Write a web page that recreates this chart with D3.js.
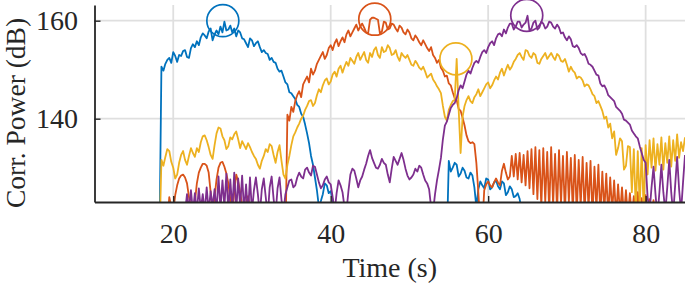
<!DOCTYPE html>
<html>
<head>
<meta charset="utf-8">
<script src="https://cdn.jsdelivr.net/npm/d3@7"></script>
<style>
    body { margin: 0; background: #fff; }
    text { font-family: "Liberation Serif", "Times New Roman", serif; }
</style>
</head>
<body>
<div id="chart"></div>
<script>
// sample times (s), one value every 0.25 s from 18 to 85
const time = d3.range(18, 85.001, 0.25);

// correlation power (dB); values under 123 fall below the axis
// each row holds 5 s of samples
const blue = [
    115, 115, 150.6, 149.8, 151.2, 152.0, 152.4, 151.4, 153.6, 152.8, 151.6, 153.0, 152.8, 153.8, 154.0, 152.6, 152.4, 154.4, 155.2, 154.6,
    155.8, 155.0, 156.6, 157.4, 157.0, 156.4, 157.8, 158.4, 156.0, 157.2, 158.0, 157.2, 158.8, 157.6, 159.8, 158.0, 158.2, 159.0, 157.6, 158.4,
    156.8, 158.0, 157.6, 156.4, 156.2, 155.4, 154.6, 156.4, 156.0, 154.8, 155.4, 155.8, 154.6, 153.6, 154.0, 153.4, 153.2, 152.0, 152.4, 151.6,
    151.4, 150.2, 149.6, 149.8, 148.6, 147.4, 147.0, 145.4, 145.2, 144.6, 144.0, 142.8, 142.4, 141.0, 140.4, 138.8, 137.0, 135.0, 132.4, 130.6,
    128.0, 125.4, 122.0, 123.2, 124.6, 126.8, 126.4, 124.8, 125.2, 123.4, 121.0, 115, 115, 115, 115, 115, 115, 115, 115, 115,
    115, 115, 115, 115, 115, 115, 115, 115, 115, 115, 115, 115, 115, 115, 115, 115, 115, 115, 115, 115,
    115, 115, 115, 115, 115, 115, 115, 115, 115, 115, 115, 115, 115, 115, 115, 115, 115, 115, 115, 115,
    115, 115, 115, 115, 115, 115, 115, 115, 131.4, 129.2, 130.0, 131.0, 130.6, 128.2, 128.8, 130.0, 129.4, 128.0, 127.8, 129.0,
    128.4, 126.0, 122.0, 125.6, 127.2, 126.4, 125.8, 127.8, 127.6, 125.6, 126.0, 127.0, 127.4, 126.2, 125.6, 127.2, 126.8, 124.4, 125.0, 126.2,
    125.6, 124.0, 124.2, 124.8, 123.6, 121.0, 118, 115, 115, 115, 115, 115, 115, 115, 115, 115, 115, 115, 115, 115,
    115, 115, 115, 115, 115, 115, 115, 115, 115, 115, 115, 115, 115, 115, 115, 115, 115, 115, 115, 115,
    115, 115, 115, 115, 115, 115, 115, 115, 115, 115, 115, 115, 115, 115, 115, 115, 115, 115, 115, 115,
    115, 115, 115, 115, 115, 115, 115, 115, 115, 115, 115, 115, 115, 115, 115, 115, 115, 115, 115, 115,
    115, 115, 115, 115, 115, 115, 115, 115, 115
];
const orange = [
    115, 115, 115, 115, 115, 119, 124.0, 122.0, 121.0, 124.4, 126.4, 127.8, 128.4, 128.6, 128.0, 126.8, 124.0, 122.0, 121.0, 123.0,
    126.8, 129.0, 130.0, 130.8, 130.8, 130.4, 129.0, 125.0, 121.0, 124.0, 127.6, 130.0, 131.0, 131.2, 130.2, 128.8, 126.8, 123.6, 121.0, 125.0,
    128.6, 127.2, 125.0, 122.4, 121.0, 122.8, 124.2, 122.0, 120.0, 115, 115, 115, 115, 115, 115, 115, 115, 115, 115, 115,
    115, 115, 115, 115, 115, 115, 140.8, 139.6, 142.4, 141.4, 143.6, 144.8, 145.6, 144.4, 147.0, 147.8, 148.6, 147.4, 150.2, 149.0,
    149.8, 151.2, 152.0, 152.8, 153.6, 152.2, 153.0, 154.4, 155.0, 154.0, 155.4, 156.2, 154.8, 155.8, 156.6, 155.6, 157.2, 158.0, 156.8, 157.6,
    158.4, 159.2, 158.0, 158.8, 159.4, 158.6, 157.6, 157.4, 160.2, 160.6, 160.6, 160.4, 160.2, 157.4, 157.8, 159.8, 159.6, 158.2, 158.4, 159.4,
    159.2, 158.4, 157.8, 159.0, 158.6, 157.6, 157.2, 158.2, 157.6, 156.4, 156.0, 157.0, 156.4, 155.6, 155.0, 156.0, 155.2, 154.4, 153.8, 154.6,
    153.0, 152.4, 151.4, 152.0, 150.4, 149.8, 148.6, 148.8, 147.2, 146.8, 145.4, 144.2, 143.8, 142.0, 141.6, 140.2, 138.6, 136.6, 135.4, 135.0,
    135.2, 134.8, 131.0, 125.0, 118, 118, 125.4, 126.6, 127.2, 126.4, 126.0, 127.0, 127.8, 127.0, 126.4, 129.4, 130.8, 129.0, 127.6, 128.2,
    132.4, 128.2, 132.8, 127.6, 133.0, 127.0, 132.6, 126.4, 133.4, 125.8, 133.8, 124.6, 134.2, 123.6, 133.6, 122.0, 134.0, 123.0, 133.2, 121.0,
    134.2, 122.4, 132.8, 121.0, 133.6, 122.6, 132.4, 120.5, 133.2, 123.0, 132.0, 121.0, 132.6, 120.5, 131.6, 122.0, 132.2, 120.5, 131.0, 121.5,
    131.4, 120.0, 130.2, 121.5, 130.6, 120.0, 129.2, 121.0, 128.8, 120.0, 128.0, 121.0, 127.4, 120.0, 126.6, 120.5, 126.0, 120.0, 125.4, 120.0,
    124.8, 120.0, 124.2, 120.0, 125.0, 120.0, 123.8, 120.0, 124.4, 120.0, 123.6, 120.0, 123.4, 120.0, 120.0, 120.0, 120.0, 120.0, 120.0, 120.0,
    120, 120, 120, 120, 120, 120, 120, 120, 120
];
const yellow = [
    115, 115, 131.6, 130.4, 132.2, 133.8, 133.4, 131.2, 130.0, 127.8, 128.6, 131.0, 132.6, 133.4, 131.6, 130.6, 132.4, 134.0, 133.0, 132.2,
    134.0, 133.2, 135.2, 136.4, 136.6, 135.6, 134.2, 132.6, 131.8, 134.6, 137.0, 138.2, 138.0, 136.4, 135.6, 133.8, 134.4, 136.2, 135.8, 136.8,
    137.4, 135.8, 134.0, 135.4, 134.6, 133.8, 135.0, 134.2, 133.2, 132.4, 131.8, 130.6, 129.8, 131.4, 132.4, 133.8, 133.2, 134.8, 134.4, 132.6,
    131.0, 133.2, 134.6, 131.4, 128.6, 127.8, 130.6, 132.4, 134.6, 136.4, 137.2, 138.2, 139.0, 140.0, 140.6, 141.8, 142.6, 143.6, 143.8, 142.6,
    143.2, 144.8, 146.0, 145.4, 146.8, 147.8, 148.2, 147.0, 147.6, 149.0, 149.6, 148.6, 150.2, 150.8, 149.4, 150.6, 151.6, 150.8, 152.4, 151.8,
    151.2, 152.6, 153.4, 152.0, 152.8, 153.6, 152.0, 151.4, 153.4, 152.6, 154.0, 154.6, 153.0, 152.4, 154.6, 153.6, 153.8, 155.0, 154.4, 153.0,
    153.2, 154.0, 152.6, 151.8, 153.4, 152.8, 152.4, 153.0, 152.0, 151.0, 150.8, 151.8, 151.2, 150.4, 150.0, 150.6, 149.6, 148.4, 148.8, 149.2,
    148.0, 147.4, 146.6, 146.0, 145.2, 142.6, 140.4, 139.6, 141.8, 142.8, 143.6, 143.8, 152.2, 142.0, 133.0, 140.4, 142.6, 143.8, 144.6, 143.6,
    143.2, 144.4, 145.0, 146.0, 144.6, 145.4, 146.2, 147.0, 147.4, 146.2, 146.8, 147.8, 148.6, 148.0, 149.4, 150.2, 148.8, 150.0, 151.0, 150.0,
    150.6, 151.6, 152.2, 153.0, 153.4, 152.6, 152.0, 154.0, 153.8, 152.8, 152.4, 153.4, 153.0, 151.4, 151.2, 152.2, 152.8, 153.4, 152.2, 152.8,
    153.4, 152.6, 152.0, 153.2, 152.8, 151.8, 151.6, 152.2, 151.0, 149.6, 150.6, 149.8, 149.4, 148.2, 148.6, 148.4, 147.8, 146.6, 147.0, 146.8,
    146.0, 145.0, 144.6, 143.2, 143.6, 142.6, 141.6, 140.0, 140.4, 138.2, 139.0, 136.0, 137.4, 132.6, 134.0, 136.0, 135.4, 129.6, 130.4, 134.4,
    134.2, 125.0, 133.8, 121.0, 133.4, 122.0, 134.0, 121.0, 134.6, 128.6, 135.6, 130.0, 136.0, 129.4, 134.8, 130.6, 136.2, 129.6, 135.0, 131.0,
    136.4, 130.2, 135.6, 131.4, 136.8, 132.0, 135.2, 133.4, 136.2
];
const purple = [
    115, 115, 115, 115, 115, 115, 115, 115, 115, 115, 115, 115, 115, 115, 121.0, 124.6, 121.5, 125.4, 121.0, 124.8,
    121.0, 125.8, 121.5, 124.6, 121.0, 126.0, 121.0, 125.2, 122.0, 125.6, 121.0, 128.2, 121.5, 127.4, 122.0, 128.8, 121.0, 127.6, 121.5, 129.0,
    121.0, 127.8, 122.0, 128.4, 121.0, 126.6, 120.5, 128.0, 121.0, 125.4, 128.0, 124.6, 120.5, 125.6, 127.8, 124.0, 120.0, 126.0, 128.2, 123.6,
    120.5, 125.8, 128.0, 123.4, 121.0, 124.6, 126.0, 127.4, 127.6, 126.0, 126.4, 128.0, 129.0, 128.2, 127.8, 129.6, 130.0, 129.0, 128.4, 130.4,
    130.2, 128.6, 127.0, 125.8, 126.4, 127.6, 128.2, 127.0, 126.6, 124.0, 121.0, 124.8, 127.4, 126.4, 125.0, 122.0, 121.0, 125.2, 128.6, 129.8,
    129.4, 127.8, 126.0, 127.4, 128.2, 129.6, 130.8, 132.4, 133.6, 132.0, 131.0, 130.0, 129.8, 130.6, 131.8, 131.0, 130.6, 128.6, 127.0, 129.8,
    132.2, 131.4, 130.6, 131.8, 133.0, 131.6, 129.8, 128.4, 127.6, 128.0, 128.6, 129.8, 129.2, 130.4, 130.0, 128.6, 127.4, 126.8, 125.6, 122.0,
    121.0, 124.6, 127.4, 129.6, 132.0, 135.8, 138.6, 139.4, 140.8, 142.2, 142.8, 143.2, 144.2, 145.8, 146.8, 146.2, 147.6, 149.0, 149.8, 149.2,
    150.4, 151.4, 151.8, 151.4, 152.6, 153.6, 154.0, 153.4, 154.6, 155.4, 155.8, 155.0, 156.4, 157.2, 157.4, 156.8, 158.2, 157.4, 158.6, 159.4,
    159.4, 158.2, 158.8, 159.8, 159.8, 158.6, 159.2, 159.6, 161.0, 158.0, 158.4, 159.6, 160.0, 158.2, 158.6, 159.8, 159.4, 158.4, 158.8, 159.8,
    159.6, 158.8, 158.4, 159.2, 158.6, 157.4, 157.6, 156.6, 156.0, 156.8, 156.2, 154.8, 154.6, 155.0, 154.4, 153.4, 153.0, 153.2, 152.4, 151.2,
    151.0, 150.6, 149.8, 149.0, 148.8, 147.2, 146.6, 146.8, 146.0, 144.8, 144.4, 144.0, 143.6, 142.4, 142.0, 141.6, 141.0, 139.8, 139.6, 139.2,
    138.8, 137.6, 137.0, 136.4, 136.0, 134.4, 133.0, 131.6, 131.0, 124.0, 121.0, 126.0, 130.2, 124.6, 120.0, 125.0, 130.6, 125.0, 121.0, 126.0,
    131.6, 125.0, 120.5, 126.4, 132.2, 125.6, 121.0, 127.0, 132.6
];

// peak markers
const peakTime = [26.3, 45.6, 55.9, 64.9];
const peakPower = [160.0, 160.3, 152.2, 161.1];

const xTicks = [20, 40, 60, 80];
const yTicks = [140, 160];
const colors = ["#0072BD", "#D95319", "#EDB120", "#7E2F8E"];
const series = [blue, orange, yellow, purple];

const width = 685, height = 289;
const plot = {left: 94.5, right: 685, top: 5, bottom: 202};

const x = d3.scaleLinear().domain([10, 85]).range([plot.left, plot.right]);
const y = d3.scaleLinear().domain([123, 163.2]).range([plot.bottom, plot.top]);

const svg = d3.select("#chart").append("svg")
    .attr("width", width)
    .attr("height", height);

svg.append("defs").append("clipPath")
    .attr("id", "clip")
    .append("rect")
    .attr("x", plot.left)
    .attr("y", plot.top - 10)
    .attr("width", plot.right - plot.left)
    .attr("height", plot.bottom - plot.top + 10);

// grid
svg.append("g").selectAll("line")
    .data(xTicks)
    .enter().append("line")
    .attr("x1", d => x(d)).attr("x2", d => x(d))
    .attr("y1", plot.top).attr("y2", plot.bottom)
    .attr("stroke", "#dfdfdf").attr("stroke-width", 1.8);
svg.append("g").selectAll("line")
    .data(yTicks)
    .enter().append("line")
    .attr("x1", plot.left).attr("x2", plot.right)
    .attr("y1", d => y(d)).attr("y2", d => y(d))
    .attr("stroke", "#dfdfdf").attr("stroke-width", 1.8);

const line = d3.line()
    .defined((d, i) => i < time.length)
    .x((d, i) => x(time[i]))
    .y(d => y(d));

svg.append("g")
    .attr("clip-path", "url(#clip)")
    .selectAll("path")
    .data(series)
    .enter().append("path")
    .attr("d", line)
    .attr("fill", "none")
    .attr("stroke", (d, i) => colors[i])
    .attr("stroke-width", 1.8)
    .attr("stroke-linejoin", "round");

svg.append("g").selectAll("circle")
    .data(peakTime)
    .enter().append("circle")
    .attr("cx", d => x(d))
    .attr("cy", (d, i) => y(peakPower[i]))
    .attr("r", 16)
    .attr("fill", "none")
    .attr("stroke", (d, i) => colors[i])
    .attr("stroke-width", 1.7);

// axes
const xAxis = svg.append("g")
    .attr("transform", "translate(0," + plot.bottom + ")")
    .call(d3.axisBottom(x).tickValues(xTicks).tickSize(-6).tickSizeOuter(0).tickPadding(21));
const yAxis = svg.append("g")
    .attr("transform", "translate(" + plot.left + ",0)")
    .call(d3.axisLeft(y).tickValues(yTicks).tickSize(-6).tickSizeOuter(0).tickPadding(16.5));

[xAxis, yAxis].forEach(a => {
    a.select(".domain").attr("stroke", "#262626").attr("stroke-width", 1.8);
    a.selectAll(".tick line").attr("stroke", "#262626").attr("stroke-width", 1.4);
    a.selectAll(".tick text")
        .attr("fill", "#262626")
        .style("font-size", "28px")
        .style("font-family", "'Liberation Serif', serif");
});

svg.append("text")
    .attr("x", (plot.left + plot.right) / 2)
    .attr("y", 277)
    .attr("text-anchor", "middle")
    .attr("fill", "#262626")
    .style("font-size", "28px")
    .text("Time (s)");

svg.append("text")
    .attr("transform", "translate(25,113)rotate(-90)")
    .attr("text-anchor", "middle")
    .attr("fill", "#262626")
    .style("font-size", "27.5px")
    .text("Corr. Power (dB)");
</script>
</body>
</html>
